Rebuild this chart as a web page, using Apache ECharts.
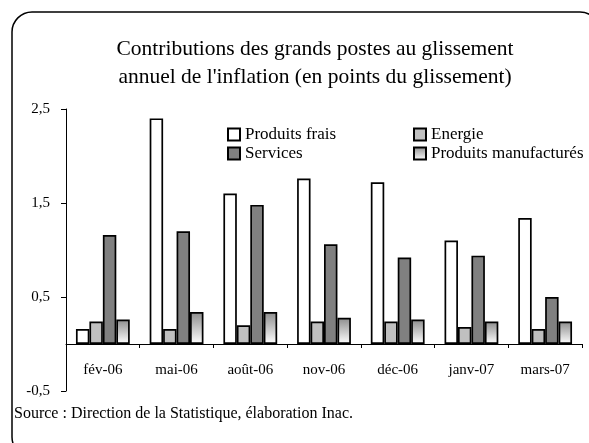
<!DOCTYPE html>
<html><head><meta charset="utf-8">
<script src="https://cdn.jsdelivr.net/npm/echarts@6/dist/echarts.min.js"></script>
<style>html,body{margin:0;padding:0;background:#fff}#c{width:589px;height:443px}</style>
</head><body><div id="c"></div>
<script>
var categories = ['fév-06','mai-06','août-06','nov-06','déc-06','janv-07','mars-07'];
var produitsFrais = [0.16, 2.40, 1.60, 1.76, 1.72, 1.10, 1.34];
var energie = [0.24, 0.16, 0.20, 0.24, 0.24, 0.18, 0.16];
var services = [1.16, 1.20, 1.48, 1.06, 0.92, 0.94, 0.50];
var manufactures = [0.26, 0.34, 0.34, 0.28, 0.26, 0.24, 0.24];
var yTicks = [-0.5, 0.5, 1.5, 2.5];

var FONT = '"Liberation Serif", "DejaVu Serif", serif';
var border = {borderColor:'#000', borderWidth:1.7};
var chart = echarts.init(document.getElementById('c'));
function bar(name, data, color){
  return {type:'bar', name:name, data:data, barGap:'0%', barCategoryGap:'27%',
    itemStyle:Object.assign({color:color}, border), emphasis:{disabled:true}};
}
var legendText = {fontFamily:FONT, fontSize:17, color:'#000'};
chart.setOption({
  animation:false,
  textStyle:{fontFamily:FONT, color:'#000'},
  title:{text:"Contributions des grands postes au glissement\nannuel de l'inflation (en points du glissement)",
    left:310, textAlign:'center', top:30,
    textStyle:{fontFamily:FONT, fontSize:21.5, fontWeight:'normal', color:'#000', lineHeight:28}},
  legend:[
    {data:['Produits frais','Services'], orient:'vertical', left:222, top:121, icon:'rect',
     itemWidth:12, itemHeight:12, itemGap:2, textStyle:legendText},
    {data:['Energie','Produits manufacturés'], orient:'vertical', left:408, top:121, icon:'rect',
     itemWidth:12, itemHeight:12, itemGap:2, textStyle:legendText}
  ],
  grid:{left:66, right:7, top:109, bottom:52, containLabel:false},
  xAxis:{type:'category', data:categories, offset:-47,
    axisLine:{onZero:false, lineStyle:{color:'#000', width:1}},
    axisTick:{show:true, length:4, lineStyle:{color:'#000'}},
    axisLabel:{margin:19, fontFamily:FONT, fontSize:15, color:'#000', interval:0},
    splitLine:{show:false}},
  yAxis:{type:'value', min:-0.5, max:2.5,
    axisLine:{show:true, lineStyle:{color:'#000', width:1}},
    axisTick:{show:true, length:5, customValues:yTicks, lineStyle:{color:'#000'}},
    axisLabel:{margin:16, fontFamily:FONT, fontSize:15, color:'#000', customValues:yTicks,
      formatter:function(v){return String(v).replace('.', ',');}},
    splitLine:{show:false}},
  series:[
    bar('Produits frais', produitsFrais, '#ffffff'),
    bar('Energie', energie, '#c0c0c0'),
    bar('Services', services, '#808080'),
    bar('Produits manufacturés', manufactures, new echarts.graphic.LinearGradient(0,0,0,1,[{offset:0,color:'#8c8c8c'},{offset:1,color:'#ffffff'}]))
  ],
  graphic:[
    {type:'rect', shape:{x:12, y:12, width:588, height:445, r:20}, style:{fill:'none', stroke:'#000', lineWidth:1.5}, silent:true},
    {type:'text', left:14, top:406, style:{text:'Source : Direction de la Statistique, élaboration Inac.', font:'16px "Liberation Serif", serif', fill:'#000'}}
  ]
});
</script></body></html>
